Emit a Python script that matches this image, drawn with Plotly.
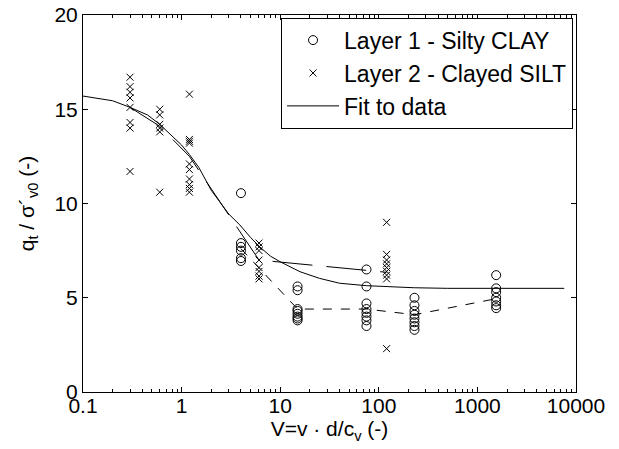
import plotly.graph_objects as go

# ---- data ----
# Layer 1 - Silty CLAY (circles)
l1_V = [4]*6 + [15]*8 + [75]*8 + [230]*8 + [1550]*7
l1_q = [10.55, 7.9, 7.7, 7.5, 7.1, 6.95,
        5.6, 5.4, 4.4, 4.3, 4.15, 4.0, 3.9, 3.8,
        6.5, 5.6, 4.7, 4.4, 4.2, 4.0, 3.8, 3.5,
        5.0, 4.6, 4.3, 4.1, 3.9, 3.7, 3.5, 3.3,
        6.2, 5.5, 5.3, 5.0, 4.8, 4.6, 4.45]

# Layer 2 - Clayed SILT (crosses)
l2_V = [0.3]*8 + [0.6]*6 + [1.2]*10 + [6.1]*8 + [120]*9
l2_q = [16.7, 16.2, 15.9, 15.6, 15.1, 14.3, 14.0, 11.7,
        15.0, 14.7, 14.2, 14.0, 13.8, 10.6,
        15.8, 13.4, 13.3, 13.2, 12.1, 11.8, 11.3, 11.0, 10.8, 10.6,
        7.9, 7.7, 7.5, 7.0, 6.6, 6.4, 6.15, 6.0,
        9.0, 7.3, 7.0, 6.8, 6.6, 6.4, 6.2, 6.0, 2.3]

# trend lines through the layers
l1_trend_V = [4, 15, 75, 230, 1550]
l1_trend_q = [7.6, 4.4, 4.4, 4.1, 4.95]
l2_trend_V = [0.3, 0.6, 1.2, 6.1, 120]
l2_trend_q = [15.1, 14.1, 12.5, 7.0, 6.35]

# fit to data
fit_V = [0.1, 0.2, 0.3, 0.45, 0.6, 0.8, 1.0, 1.2, 1.5, 2.0, 2.5, 3.0, 3.9,
         5.0, 6.2, 8.0, 10, 15.9, 25, 40, 75, 120, 230, 500, 7600]
fit_q = [15.7, 15.45, 15.1, 14.7, 14.2, 13.6, 13.1, 12.6, 11.9, 10.7, 10.0, 9.45, 8.86,
         8.2, 7.7, 7.2, 6.91, 6.38, 6.03, 5.77, 5.64, 5.59, 5.53, 5.5, 5.5]

x_ticks = [0.1, 1, 10, 100, 1000, 10000]
x_tick_text = ["0.1", "1", "10", "100", "1000", "10000"]
y_ticks = [0, 5, 10, 15, 20]

FONT = "Liberation Sans, Arial, sans-serif"

fig = go.Figure()
fig.add_trace(go.Scatter(x=l1_V, y=l1_q, mode="markers", name="Layer 1 - Silty CLAY",
                         marker=dict(symbol="circle-open", size=9, color="black",
                                     line=dict(width=1, color="black"))))
fig.add_trace(go.Scatter(x=l2_V, y=l2_q, mode="markers", name="Layer 2 - Clayed SILT",
                         marker=dict(symbol="x-thin-open", size=7, color="black",
                                     line=dict(width=1, color="black"))))
fig.add_trace(go.Scatter(x=fit_V, y=fit_q, mode="lines", name="Fit to data",
                         line=dict(color="black", width=1)))
fig.add_trace(go.Scatter(x=l1_trend_V, y=l1_trend_q, mode="lines", showlegend=False,
                         line=dict(color="black", width=1, dash="9px,9px")))
fig.add_trace(go.Scatter(x=l2_trend_V, y=l2_trend_q, mode="lines", showlegend=False,
                         line=dict(color="black", width=1, dash="40px,14px")))

axis_common = dict(showline=True, linecolor="black", linewidth=1, mirror="ticks",
                   ticks="inside", ticklen=5, tickcolor="black", showgrid=False,
                   zeroline=False, tickfont=dict(size=21, color="black", family=FONT))

fig.update_xaxes(type="log", range=[-1, 4], tickvals=x_ticks, ticktext=x_tick_text,
                 ticklabelstandoff=-5,
                 minor=dict(ticks="inside", ticklen=3, tickcolor="black",
                            tickvals=[m * d for d in [0.1, 1, 10, 100, 1000] for m in range(2, 10)]),
                 title=dict(text="V=v · d/c<sub>v</sub> (-)", standoff=0,
                            font=dict(size=21, color="black", family=FONT)),
                 **axis_common)
fig.update_yaxes(range=[0, 20], tickvals=y_ticks,
                 title=dict(text="q<sub>t</sub> / σ´<sub>v0</sub> (-)", standoff=14,
                            font=dict(size=21, color="black", family=FONT)),
                 **axis_common)

fig.update_layout(
    width=619, height=449,
    margin=dict(l=83, r=43, t=15, b=57, autoexpand=False),
    paper_bgcolor="white", plot_bgcolor="white",
    font=dict(family=FONT, size=21, color="black"),
    legend=dict(x=0.994, y=0.993, xanchor="right", yanchor="top",
                bordercolor="black", borderwidth=1, bgcolor="white",
                font=dict(size=23, family=FONT, color="black"),
                tracegroupgap=0, itemwidth=52),
    showlegend=True,
)

fig.write_html("out.html", config={"displayModeBar": False},
               post_script="document.body.style.margin='0';")
